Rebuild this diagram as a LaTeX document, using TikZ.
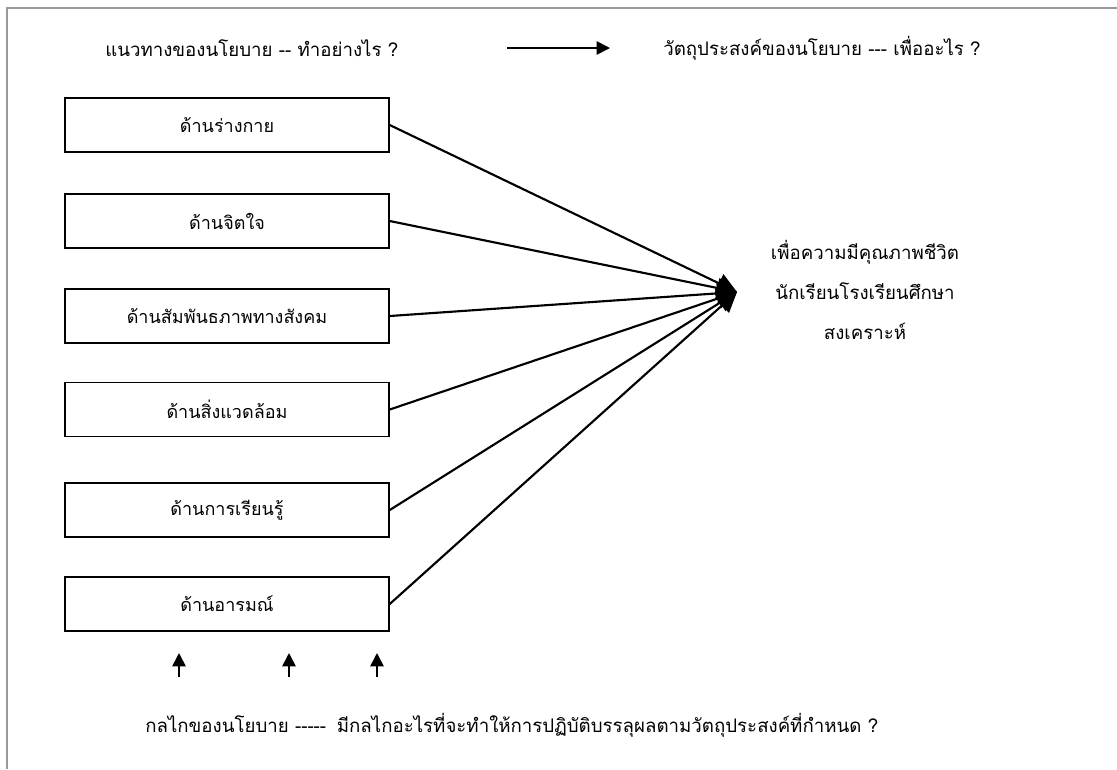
\documentclass[tikz,border=0pt]{standalone}
\usepackage{fontspec}
\setmainfont{Liberation Serif}
\newfontfamily\thai[Script=Thai]{Loma}
\usetikzlibrary{arrows.meta}
\begin{document}
\begin{tikzpicture}[x=0.75pt,y=-0.75pt,
  txt/.style={font=\thai\fontsize{14}{17}\selectfont, inner sep=0pt},
  box/.style={txt, font=\thai\fontsize{13.5}{16}\selectfont, draw, line width=1.1pt, minimum width=243pt, minimum height=40.5pt},
  conn/.style={line width=1.6pt, -{Triangle[length=15pt,width=15pt]}},
  uparrow/.style={line width=1.3pt, -{Triangle[length=10pt,width=10pt]}}]
\useasboundingbox (0,0) rectangle (1117,769);
\draw[gray!80, line width=1.5pt] (7,769) -- (7,8) -- (1117,8);

\node[txt, anchor=west] (ttl) at (105,48) {แนวทางของนโยบาย -- ทำอย่างไร ?};
\node[txt, anchor=west] (ttr) at (663,48) {วัตถุประสงค์ของนโยบาย --- เพื่ออะไร ?};
\coordinate (ta1) at (507,48);
\coordinate (ta2) at (610,48);
\draw[uparrow] (ta1) -- (ta2);

\node[box] (b1) at (227,125) {ด้านร่างกาย};
\node[box] (b2) at (227,221) {ด้านจิตใจ};
\node[box] (b3) at (227,316) {ด้านสัมพันธภาพทางสังคม};
\node[box] (b4) at (227,409.5) {ด้านสิ่งแวดล้อม};
\node[box] (b5) at (227,510) {ด้านการเรียนรู้};
\node[box] (b6) at (227,604) {ด้านอารมณ์};

\node[txt, align=center, font=\thai\fontsize{14}{30}\selectfont] (goal) at (865,290) {เพื่อความมีคุณภาพชีวิต\\นักเรียนโรงเรียนศึกษา\\สงเคราะห์};
\coordinate (tip) at (737,292);
\foreach \b in {b1,b2,b3,b4,b5,b6}
  \draw[conn] (\b.east) -- (tip);

\coordinate (u1a) at (179,677); \coordinate (u1b) at (179,653);
\coordinate (u2a) at (289,677); \coordinate (u2b) at (289,653);
\coordinate (u3a) at (377,677); \coordinate (u3b) at (377,653);
\draw[uparrow] (u1a) -- (u1b);
\draw[uparrow] (u2a) -- (u2b);
\draw[uparrow] (u3a) -- (u3b);

\node[txt, anchor=west] (bot) at (145,725) {กลไกของนโยบาย -----\hspace{8pt}มีกลไกอะไรที่จะทำให้การปฏิบัติบรรลุผลตามวัตถุประสงค์ที่กำหนด ?};
\end{tikzpicture}
\end{document}
